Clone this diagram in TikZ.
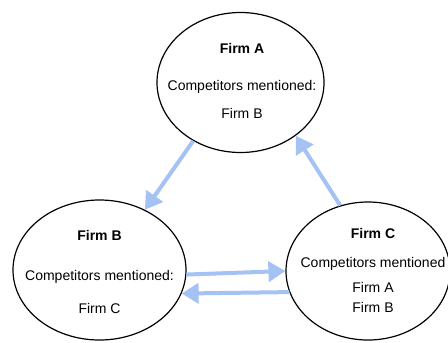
\documentclass[tikz,border=0pt]{standalone}
\usepackage{fontspec}
\setmainfont{Liberation Sans}
\usepackage{tikz}
\usetikzlibrary{arrows.meta,shapes.geometric}

\definecolor{flowblue}{HTML}{A4C2F4}

\tikzset{
    firm/.style={draw, ellipse, line width=1.2bp, inner sep=0pt},
    txt/.style={inner sep=0pt, text height=10bp, text depth=0pt,
        font=\fontsize{14bp}{16bp}\selectfont},
    title/.style={txt, font=\fontsize{14bp}{16bp}\selectfont\bfseries},
    flow/.style={draw=flowblue, line width=4bp,
        -{Triangle[length=17bp,width=20bp]}, shorten >=0pt}
}

\begin{document}
\begin{tikzpicture}[x=1bp, y=1bp]
    \useasboundingbox (0,0) rectangle (448,342);

    \node[firm, minimum width=167bp, minimum height=140bp] (A) at (240.5,259.5) {};
    \node[firm, minimum width=173bp, minimum height=140bp] (B) at (99.5,72) {};
    \node[firm, minimum width=164bp, minimum height=138bp] (C) at (368,71) {};

    \node[title] (Aname) at (242,294) {Firm A};
    \node[txt] (Acomp) at (242,257) {Competitors mentioned:};
    \node[txt] (Alist) at (242,229) {Firm B};

    \node[title] (Bname) at (99.5,107) {Firm B};
    \node[txt] (Bcomp) at (99.5,67) {Competitors mentioned:};
    \node[txt] (Blist) at (99.5,34) {Firm C};

    \node[title] (Cname) at (373,109) {Firm C};
    \node[txt] (Ccomp) at (373,80) {Competitors mentioned};
    \node[txt] (Clist1) at (373,55) {Firm A};
    \node[txt] (Clist2) at (373,35) {Firm B};

    \draw[flow] (A.231) -- (B.53);
    \draw[flow] (C.113) -- (A.316);
    \draw[flow] (B.357) -- (C.180);
    \draw[flow] (C.195) -- (B.344);
\end{tikzpicture}
\end{document}
